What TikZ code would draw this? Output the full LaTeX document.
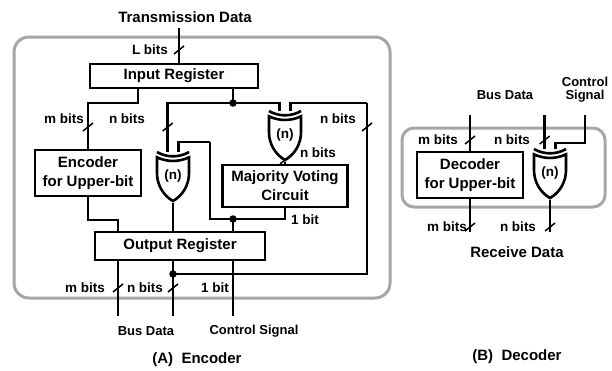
\documentclass[tikz,border=0pt]{standalone}
\usepackage{fontspec}
\setmainfont{Liberation Sans}
\usetikzlibrary{shapes.gates.logic.US}

\begin{document}
\begin{tikzpicture}[x=1pt,y=-1pt,line width=2.8pt,
    reg node/.style={rectangle,draw,line width=2.8pt,inner sep=0pt,align=center,
      font=\bfseries\fontsize{15}{19}\selectfont},
    gate node/.style={xor gate US,draw,line width=2.6pt,logic gate inputs=nn,
      rotate=-90,minimum width=38pt,minimum height=32pt,inner sep=0pt},
    text node/.style={inner sep=0pt,align=center,font=\bfseries\fontsize{15}{18}\selectfont},
    bus node/.style={inner sep=0pt,align=center,font=\bfseries\fontsize{13}{13}\selectfont},
    bit node/.style={inner sep=0pt,font=\bfseries\fontsize{13.5}{16}\selectfont},
    join dot/.style={circle,fill,inner sep=0pt,minimum size=7.5pt},
    grey frame/.style={draw=black!35,line width=3pt,rounded corners=15pt},
    in line/.style={shorten >=3pt},
    bus/.pic={\draw[line width=1.5pt] (-5,4) -- (5,-4);}]

    \useasboundingbox (0,0) rectangle (612,370);

    % (A) encoder
    \draw[grey frame] (14,37) rectangle (390,298);

    \node[text node] (0) at (185,17) {Transmission Data};
    \node[reg node,minimum width=168pt,minimum height=24pt] (1) at (174,76) {Input Register};
    \node[reg node,minimum width=106pt,minimum height=46pt] (2) at (88,173) {Encoder\\for Upper-bit};
    \node[reg node,minimum width=125pt,minimum height=42pt] (3) at (285,186) {Majority Voting\\Circuit};
    \node[reg node,minimum width=170pt,minimum height=28pt] (4) at (180,246) {Output Register};
    \node[gate node] (5) at (173,176) {};
    \node[gate node] (6) at (285,135) {};
    \node[bit node] (7) at (5.center) {(n)};
    \node[bit node] (8) at (6.center) {(n)};

    \coordinate (t) at (179,28);
    \coordinate (a) at (138,103);
    \coordinate (d1) at (233,103);
    \coordinate (d2) at (233,219);
    \coordinate (d3) at (173,274);
    \coordinate (b1) at (210,142);
    \coordinate (b2) at (367,103);
    \coordinate (b3) at (118,220);
    \coordinate (c1) at (118,316);
    \coordinate (c2) at (173,316);
    \coordinate (c3) at (233,316);
    \coordinate (r0) at (0,50);
    \coordinate (r1) at (0,127);
    \coordinate (r2) at (0,160);
    \coordinate (r3) at (0,288);

    \draw (t) -- (t |- 1.north);
    \draw (a |- 1.south) -- (a) -| (2.north);
    \draw (d1 |- 1.south) -- (d1);
    \draw[in line] (d1) -| (5.input 2);
    \draw[in line] (d1) -| (6.input 2);
    \draw (b2) |- (d3);
    \draw[in line] (b2) -| (6.input 1);
    \draw (6.output) -- (6.output |- 3.north);
    \draw (b1) |- (d2) -| (3.south);
    \draw[in line] (b1) -| (5.input 1);
    \draw (d2) -- (d2 |- 4.north);
    \draw (5.output) -- (5.output |- 4.north);
    \draw (2.south) |- (b3) -- (b3 |- 4.north);
    \draw (b3 |- 4.south) -- (c1);
    \draw (d3 |- 4.south) -- (c2);
    \draw (d2 |- 4.south) -- (c3);

    \node[join dot] (9) at (d1) {};
    \node[join dot] (10) at (d2) {};
    \node[join dot] (11) at (d3) {};

    \pic at (t |- r0) {bus};
    \pic at (2.north |- r1) {bus};
    \pic at (5.input 2 |- r1) {bus};
    \pic at (b2 |- r1) {bus};
    \pic at (6.output |- r2) {bus};
    \pic at (c1 |- r3) {bus};
    \pic at (c2 |- r3) {bus};

    \node[bit node] (12) at (150,50) {L bits};
    \node[bit node] (13) at (64,119) {m bits};
    \node[bit node] (14) at (127,119) {n bits};
    \node[bit node] (15) at (338,119) {n bits};
    \node[bit node] (16) at (318,153) {n bits};
    \node[bit node] (17) at (305,220) {1 bit};
    \node[bit node] (18) at (85,288) {m bits};
    \node[bit node] (19) at (145,288) {n bits};
    \node[bit node] (20) at (215,288) {1 bit};
    \node[bus node] (21) at (146,331) {Bus Data};
    \node[bus node] (22) at (254,331) {Control Signal};
    \node[text node] (23) at (197,360) {(A)\ \ Encoder};

    % (B) decoder
    \draw[grey frame,rounded corners=12pt] (402,128) rectangle (605,207);

    \node[reg node,minimum width=106pt,minimum height=46pt] (30) at (470,175) {Decoder\\for Upper-bit};
    \node[gate node] (31) at (550,173) {};
    \node[bit node] (32) at (31.center) {(n)};

    \coordinate (h1) at (470,115);
    \coordinate (h2) at (585,115);
    \coordinate (h3) at (585,143);
    \coordinate (h4) at (470,232);
    \coordinate (r4) at (0,140);
    \coordinate (r5) at (0,227);

    \draw (h1) -- (30.north);
    \draw[in line] (31.input 2 |- h1) -- (31.input 2);
    \draw[in line] (h2) -- (h3) -| (31.input 1);
    \draw (30.south) -- (h4);
    \draw (31.output) -- (31.output |- h4);

    \pic at (h1 |- r4) {bus};
    \pic at (31.input 2 |- r4) {bus};
    \pic at (h1 |- r5) {bus};
    \pic at (31.output |- r5) {bus};

    \node[bus node] (33) at (505,95) {Bus Data};
    \node[bus node] (34) at (585,90) {Control\\Signal};
    \node[bit node] (35) at (438,140) {m bits};
    \node[bit node] (36) at (512,140) {n bits};
    \node[bit node] (37) at (447,227) {m bits};
    \node[bit node] (38) at (518,227) {n bits};
    \node[text node] (39) at (517,252) {Receive Data};
    \node[text node] (40) at (517,357) {(B)\ \ Decoder};
\end{tikzpicture}
\end{document}
